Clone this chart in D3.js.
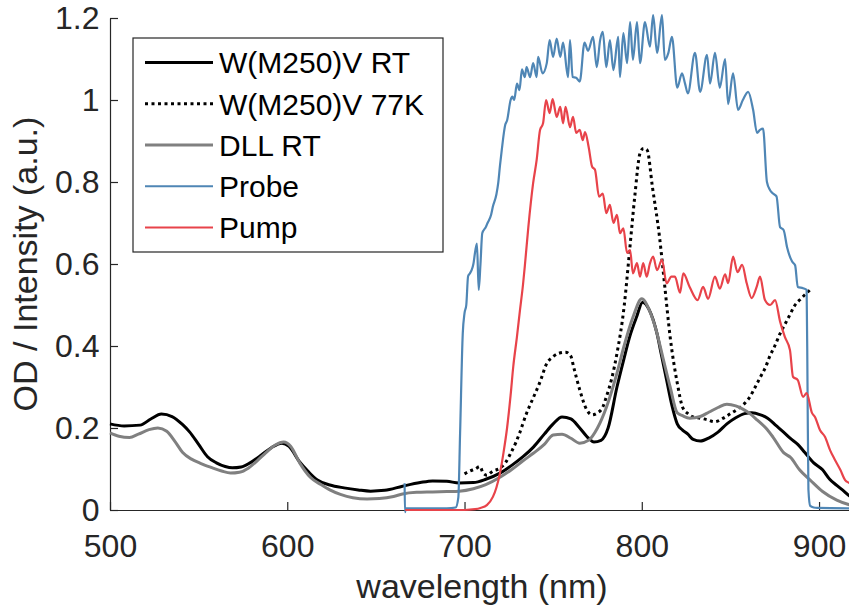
<!DOCTYPE html>
<html><head><meta charset="utf-8">
<script src="https://cdn.jsdelivr.net/npm/d3@7"></script>
<style>body{margin:0;background:#fff} svg text{font-family:"Liberation Sans",Arial,Helvetica,sans-serif}</style>
</head><body><svg id="c" width="849" height="606"></svg>
<script>
// ---- data ----
const xTicks=[500,600,700,800,900];
const yTicks=[0,0.2,0.4,0.6,0.8,1,1.2];
const yTickLabels=["0","0.2","0.4","0.6","0.8","1","1.2"];
const seriesNames=["W(M250)V RT","W(M250)V 77K","DLL RT","Probe","Pump"];

const rtWl=[500,508,517,523,529,535,541,545,550,555,560,565,569,574,579,585,591,597,601,607,612,617,624,632,640,647,655,665,675,682,690,697,705,712,720,727,733,739,745,750,755,760,765,770,773,777,781,786,790,793,797,800.5,804,808.6,811,814,817,820,823,826,829,833,838,843,848,853,858,862,867,871,876,880,884,888,892,897,902,906,910,914,917,920];
const rtOD=[0.210,0.205,0.207,0.222,0.234,0.228,0.208,0.190,0.160,0.130,0.115,0.106,0.103,0.105,0.115,0.133,0.152,0.163,0.155,0.117,0.093,0.073,0.061,0.054,0.049,0.046,0.048,0.058,0.067,0.071,0.070,0.066,0.067,0.075,0.090,0.110,0.130,0.154,0.185,0.210,0.227,0.222,0.200,0.175,0.166,0.170,0.200,0.300,0.370,0.420,0.470,0.507,0.490,0.430,0.380,0.317,0.255,0.210,0.195,0.185,0.172,0.168,0.176,0.190,0.210,0.225,0.235,0.237,0.232,0.224,0.205,0.190,0.174,0.160,0.140,0.115,0.098,0.075,0.060,0.046,0.035,0.030];

const k77Wl=[700,703,706,708.7,710.5,712.5,716,720,723,726,729,731,735,739,743,746,750,753,757,760,761.5,765,769,772,775,778,780,783,786,790,793,796,799,801,803,806,810,813,816,820,823,826,829,833,837,841,846,850,854,858,861,864,867,870,872,875,878,881,884,886,889,892,895];
const k77OD=[0.088,0.095,0.100,0.106,0.090,0.085,0.095,0.102,0.115,0.138,0.165,0.187,0.236,0.276,0.317,0.354,0.374,0.382,0.385,0.375,0.350,0.293,0.244,0.232,0.237,0.251,0.276,0.320,0.382,0.495,0.627,0.763,0.870,0.882,0.878,0.788,0.666,0.544,0.422,0.310,0.251,0.235,0.227,0.224,0.220,0.215,0.224,0.235,0.246,0.260,0.276,0.300,0.325,0.350,0.373,0.400,0.430,0.455,0.480,0.497,0.512,0.525,0.537];

const dllWl=[500,505,511,516,522,527,532,537,541,546,551,557,563,568,573,578,583,588,593,598,602,607,613,619,624,630,637,645,652,660,665,673,682,690,697,705,712,720,727,733,739,745,750,755,760,765,770,775,780,786,790,795,800,804,808,812,816,820,823,827,833,838,843,848,853,857,861,865,870,874,880,884,889,895,902,910,917,920];
const dllOD=[0.188,0.180,0.177,0.185,0.196,0.200,0.192,0.165,0.140,0.124,0.114,0.104,0.095,0.090,0.092,0.102,0.120,0.140,0.158,0.166,0.155,0.115,0.080,0.062,0.049,0.038,0.030,0.027,0.028,0.033,0.039,0.043,0.044,0.045,0.046,0.052,0.062,0.080,0.100,0.120,0.139,0.160,0.183,0.185,0.175,0.163,0.170,0.200,0.250,0.334,0.400,0.470,0.515,0.490,0.440,0.370,0.300,0.237,0.230,0.224,0.228,0.239,0.250,0.258,0.254,0.246,0.235,0.220,0.200,0.178,0.140,0.128,0.098,0.073,0.045,0.024,0.013,0.011];

const probeWl=[666.2,666.4,667,680,690,695,696.5,697.5,699,700,701,702,703,704,705,706,707,708,709,710,712,713,715,716,718,719,720,721,723,724,726,727,728,729.6,731,732.4,734,735,737,738.7,740.7,741.5,744,746.4,748,750,752,754,755.6,758.4,759.5,761,763,765,767.7,769.7,772.5,774.6,776.5,778,780,782,784,786.7,787.7,789.6,791.7,793.4,795,797.3,799,801.8,804.6,806.4,808.6,811.4,813,815,817,820,822.7,824.4,826,830,832.9,836.8,838.5,841.3,844,847,848.7,851.5,854.3,857,860,862.8,865,866.7,868.4,870.6,872.4,874,876,878,880,882,884.8,886.5,888,891,893,893.5,894,895,897,899,920];
const probeI=[0.065,-0.005,0.004,0.004,0.004,0.006,0.030,0.187,0.430,0.480,0.500,0.570,0.577,0.585,0.600,0.630,0.650,0.537,0.600,0.675,0.690,0.700,0.720,0.740,0.770,0.797,0.840,0.878,0.940,0.950,1.000,1.008,1.000,1.040,1.024,1.075,1.056,1.080,1.056,1.090,1.056,1.105,1.065,1.090,1.146,1.105,1.150,1.105,1.140,1.056,1.146,1.056,1.054,1.045,1.140,1.120,1.154,1.080,1.146,1.166,1.080,1.146,1.073,1.154,1.056,1.163,1.090,1.190,1.098,1.190,1.090,1.190,1.130,1.207,1.115,1.207,1.098,1.115,1.154,1.030,1.065,1.040,1.016,1.115,1.020,1.110,1.040,1.115,1.030,1.100,0.990,1.065,0.976,1.000,1.020,0.976,0.920,0.927,0.930,0.800,0.780,0.772,0.765,0.690,0.683,0.640,0.606,0.597,0.544,0.541,0.537,0.300,0.050,0.010,0.006,0.005,0.004];

const pumpWl=[666.5,680,700,706,709,712.6,716,718,720,722,724,726,727.5,729.5,731.3,733,734,736,738.7,740.7,742.6,744.3,746,748,749.7,752,754,755.6,757,759.5,761.2,763,765,766.7,768,770,772,773.6,775.9,778,780,782,784,786,787.7,789.6,791.7,793.4,795,797.3,799,800.8,802.8,804.5,806.4,808.6,811.4,814,816.7,818.7,821.6,823.4,827,831.5,834.6,837.4,841.3,844,847,848.7,851.5,854,856.6,859.2,862,864.8,866.7,869.5,872.4,875.2,878,880.7,883.6,885.3,888,891,893,896,897.7,900.5,903.4,906.2,909,912,914.7,917,920];
const pumpI=[0.000,0.000,0.000,0.002,0.005,0.012,0.032,0.055,0.090,0.140,0.200,0.280,0.350,0.420,0.488,0.550,0.594,0.690,0.797,0.854,0.927,0.943,1.000,0.968,1.002,0.959,0.983,0.943,0.983,0.934,0.959,0.920,0.927,0.902,0.922,0.886,0.837,0.830,0.764,0.772,0.724,0.744,0.700,0.720,0.675,0.687,0.627,0.634,0.577,0.602,0.569,0.602,0.569,0.600,0.618,0.585,0.610,0.553,0.569,0.569,0.530,0.577,0.544,0.512,0.544,0.515,0.569,0.540,0.575,0.553,0.618,0.580,0.598,0.553,0.517,0.544,0.569,0.512,0.500,0.512,0.460,0.422,0.390,0.325,0.317,0.276,0.285,0.237,0.227,0.195,0.178,0.146,0.122,0.098,0.073,0.066,0.060];

// ---- drawing ----
const svg=d3.select("#c");
const x=d3.scaleLinear().domain([500,920]).range([110,854.5]);
const y=d3.scaleLinear().domain([0,1.2]).range([510,18]);
const axisCol="#262626";

const line=d3.line().x(d=>x(d[0])).y(d=>y(d[1])).curve(d3.curveMonotoneX);
const zip=(a,b)=>a.map((v,i)=>[v,b[i]]);

const series=[
 {data:zip(rtWl,rtOD),color:"#000000",w:3,dash:null},
 {data:zip(k77Wl,k77OD),color:"#000000",w:3,dash:"3,3.5"},
 {data:zip(dllWl,dllOD),color:"#808080",w:3,dash:null},
 {data:zip(probeWl,probeI),color:"#4f86b5",w:2.2,dash:null},
 {data:zip(pumpWl,pumpI),color:"#e8434a",w:2.2,dash:null}
];

// axes
const xAxis=d3.axisBottom(x).tickValues(xTicks).tickSizeInner(-8).tickSizeOuter(0).tickPadding(24).tickFormat(d3.format("d"));
const gx=svg.append("g").attr("transform","translate(0,510)").call(xAxis);
const yAxis=d3.axisLeft(y).tickValues(yTicks).tickSizeInner(-8).tickSizeOuter(0).tickPadding(10.5).tickFormat((d,i)=>yTickLabels[i]);
const gy=svg.append("g").attr("transform","translate(110,0)").call(yAxis);
[gx,gy].forEach(g=>{
  g.attr("font-family",null).attr("font-size",null);
  g.select(".domain").attr("stroke",axisCol).attr("stroke-width",1.2);
  g.selectAll(".tick line").attr("stroke",axisCol).attr("stroke-width",1.2);
  g.selectAll(".tick text").attr("fill",axisCol).style("font-size","32px");
});

// series lines
series.forEach(s=>{
  svg.append("path").datum(s.data).attr("d",line)
    .attr("fill","none").attr("stroke",s.color).attr("stroke-width",s.w)
    .attr("stroke-linejoin","round").attr("stroke-dasharray",s.dash);
});

// axis labels
svg.append("text").attr("x",482).attr("y",598).attr("text-anchor","middle")
  .attr("fill",axisCol).style("font-size","34px").text("wavelength (nm)");
svg.append("text").attr("transform","translate(37,264) rotate(-90)").attr("text-anchor","middle")
  .attr("fill",axisCol).style("font-size","34px").text("OD / Intensity (a.u.)");

// legend
const lg=svg.append("g");
lg.append("rect").attr("x",133).attr("y",38).attr("width",310).attr("height",214)
  .attr("fill","#fff").attr("stroke",axisCol).attr("stroke-width",1.2);
const rowY=d3.scaleLinear().domain([0,4]).range([62.5,227.5]);
series.forEach((s,i)=>{
  const yy=rowY(i);
  lg.append("line").attr("x1",145).attr("x2",213).attr("y1",yy).attr("y2",yy)
    .attr("stroke",s.color).attr("stroke-width",s.w).attr("stroke-dasharray",s.dash);
  lg.append("text").attr("x",219).attr("y",yy).attr("dy","0.36em").attr("fill","#000")
    .style("font-size","30px").text(seriesNames[i]);
});
</script></body></html>
